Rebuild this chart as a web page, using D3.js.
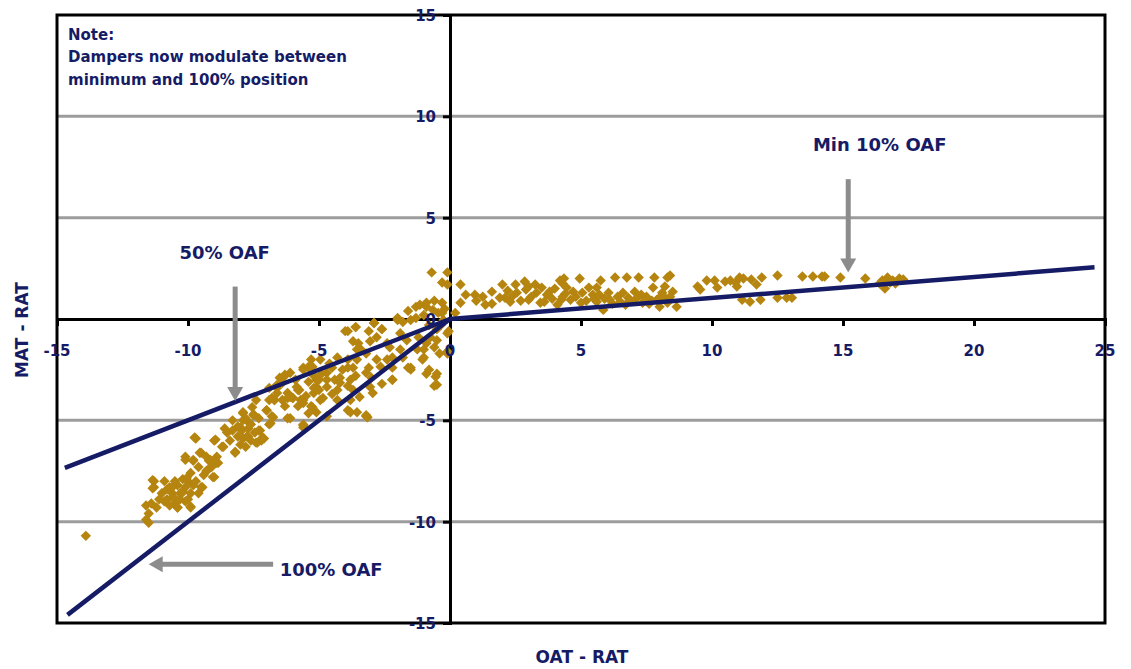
<!DOCTYPE html>
<html>
<head>
<meta charset="utf-8">
<script src="https://cdn.jsdelivr.net/npm/d3@7"></script>
<style>
  body { margin: 0; background: #fff; }
  svg { display: block; }
  text { font-family: "DejaVu Sans", sans-serif; fill: #161b66; }
</style>
</head>
<body>
<svg width="1131" height="669"></svg>
<script>
/* ===============================
   Data
   =============================== */
let xTicks = [-15, -10, -5, 0, 5, 10, 15, 20, 25];
let yTicks = [-15, -10, -5, 0, 5, 10, 15];
let gridValues = [-10, -5, 5, 10];

// measured MAT-RAT vs OAT-RAT, cold side (economizer modulating)
let coldPoints = [
  [-13.9, -10.7],
  [-11.6, -9.9], [-11.5, -9.6], [-11.6, -9.2], [-11.4, -9.1], [-11.3, -8.3], [-11.3, -8.0], [-11.2, -9.3],
  [-11.5, -10.05], [-11.35, -7.95], [-11.35, -8.35],
  [-10.8, -8.9], [-10.7, -8.3], [-10.6, -8.6], [-10.6, -8.8], [-10.5, -9.1], [-10.4, -9.3], [-10.4, -8.2],
  [-10.3, -8.6], [-10.2, -8.5], [-10.2, -7.9], [-10.1, -9.0], [-10.0, -8.9], [-10.0, -8.0], [-9.9, -9.3],
  [-9.9, -8.6], [-9.8, -8.2], [-10.1, -6.8], [-9.8, -7.0], [-9.7, -5.9], [-9.5, -6.6], [-9.5, -8.3],
  [-10.6, -8.3], [-10.55, -8.8], [-10.4, -9.3], [-10.2, -8.55], [-10.05, -7.85], [-9.9, -9.25],
  [-10.1, -6.95], [-9.75, -5.85], [-9.8, -6.95], [-9.55, -6.6], [-9.45, -8.3], [-9.25, -7.45],
  [-9.15, -6.95], [-8.95, -5.95], [-9.05, -7.8], [-8.85, -7.1], [-8.65, -6.3], [-8.5, -5.6],
  [-11.0, -8.6], [-10.9, -9.0], [-10.8, -8.4], [-10.7, -9.2], [-10.5, -8.0], [-10.3, -8.9], [-10.1, -8.3],
  [-9.9, -7.6], [-9.7, -8.0], [-9.6, -7.3], [-9.4, -7.7], [-9.3, -6.8], [-9.1, -7.3], [-9.6, -8.6],
  [-10.9, -8.0], [-11.1, -8.9],
  [-9.3, -7.5], [-9.2, -7.0], [-9.0, -7.8], [-9.0, -6.0], [-8.9, -6.8], [-8.9, -7.1], [-8.7, -6.3],
  [-8.6, -5.4], [-8.5, -5.6], [-8.3, -5.5], [-8.2, -6.6], [-8.1, -5.3], [-8.0, -5.4], [-8.2, -6.55],
  [-8.0, -5.35], [-7.9, -4.65], [-7.75, -5.8], [-7.65, -5.15], [-7.5, -4.75], [-7.35, -6.1],
  [-7.25, -5.5], [-7.15, -5.85], [-7.0, -4.5], [-6.85, -5.15], [-6.75, -4.85], [-6.7, -4.0],
  [-8.4, -6.0], [-8.3, -5.0], [-8.1, -5.8], [-7.95, -5.5], [-7.8, -4.9], [-7.7, -5.4], [-7.6, -6.0],
  [-7.45, -5.6], [-7.3, -4.9], [-7.2, -6.0], [-8.0, -6.2], [-7.55, -4.35],
  [-7.9, -4.6], [-7.9, -5.0], [-7.9, -5.9], [-7.8, -6.3], [-7.7, -5.8], [-7.6, -5.2], [-7.5, -4.7],
  [-7.4, -6.1], [-7.4, -4.0], [-7.3, -5.5], [-7.1, -5.9], [-7.0, -4.5], [-6.9, -5.2], [-6.9, -4.0],
  [-6.8, -4.8], [-6.7, -4.0], [-6.6, -3.4], [-6.6, -3.25], [-6.3, -2.75], [-6.2, -3.65], [-6.2, -4.9],
  [-6.0, -3.9], [-5.75, -3.5], [-5.6, -4.15], [-5.6, -5.25], [-5.4, -2.35], [-5.25, -4.35], [-5.1, -3.35],
  [-6.4, -4.0], [-6.3, -2.8], [-6.2, -3.9], [-6.0, -3.9], [-5.8, -3.5], [-5.8, -4.3], [-5.7, -4.0],
  [-5.6, -2.4], [-5.6, -5.2], [-5.4, -2.4], [-5.3, -4.3], [-5.3, -2.0], [-5.2, -3.4], [-5.1, -4.6],
  [-6.1, -4.9], [-5.6, -5.35], [-5.4, -4.65], [-3.9, -4.5], [-3.55, -4.6], [-3.15, -4.85], [-6.1, -3.85],
  [-5.9, -3.0], [-5.5, -3.8], [-5.4, -3.1], [-5.2, -2.8], [-5.0, -3.5], [-4.85, -3.9], [-4.6, -2.2],
  [-4.4, -3.0], [-4.5, -3.7], [-4.1, -2.5], [-3.9, -3.3], [-3.6, -2.8], [-6.5, -2.9], [-6.8, -3.9],
  [-6.3, -4.3], [-6.9, -3.4],
  [-5.25, -2.35], [-4.95, -2.0], [-4.7, -2.65], [-5.1, -3.0], [-5.6, -2.5], [-6.1, -2.65], [-5.85, -3.35],
  [-6.4, -3.15], [-6.6, -3.65], [-5.2, -3.65], [-4.7, -3.35], [-4.2, -3.15], [-3.7, -3.5], [-3.45, -3.85],
  [-2.95, -3.65], [-4.3, -4.0], [-4.95, -4.0], [-5.6, -4.0], [-3.8, -4.6], [-3.2, -4.75],
  [-5.0, -3.0], [-4.9, -2.7], [-4.7, -3.0], [-4.7, -4.8], [-4.5, -2.4], [-4.3, -3.5], [-4.2, -2.9],
  [-4.3, -1.9], [-3.9, -2.4], [-3.55, -2.0], [-3.8, -3.0], [-3.2, -2.65], [-2.65, -2.35], [-3.05, -3.35],
  [-2.2, -3.0], [-1.5, -2.5],
  [-3.7, -1.1], [-3.55, -1.5], [-3.2, -1.7], [-3.05, -1.1], [-2.8, -2.0], [-2.4, -1.2], [-2.2, -1.9],
  [-1.9, -1.5], [-1.65, -1.05], [-1.5, -2.4], [-1.25, -1.5], [-1.05, -2.0], [-0.9, -1.2], [-0.75, -0.9],
  [-0.5, -1.05], [-0.4, -1.7], [-0.9, -2.7], [-0.55, -2.85], [-0.5, -3.25],
  [-4.0, -0.6], [-3.9, -2.0], [-3.8, -4.0], [-3.7, -2.4], [-3.6, -0.4], [-3.5, -1.2], [-3.4, -1.5],
  [-3.2, -4.8], [-3.1, -2.4], [-3.0, -2.9], [-2.9, -0.2], [-2.8, -0.9], [-2.6, -0.5], [-2.6, -3.2],
  [-2.4, -2.0], [-2.3, -1.4], [-2.2, -2.4], [-2.2, -3.0], [-2.0, 0.05], [-1.9, -0.7], [-1.8, -1.9],
  [-1.6, -2.4], [-1.5, -0.05], [-1.3, 0.6], [-1.2, -0.9], [-1.0, -1.5], [-1.0, -1.9], [-0.9, 0.8],
  [-0.8, -2.5], [-0.6, -3.3], [-0.5, -2.7], [-0.5, -0.5], [-0.3, 0.3], [-0.1, -0.7], [-0.1, -1.7],
  [-3.9, -0.6], [-3.6, -0.4], [-3.1, -0.6], [-2.9, -0.2], [-2.6, -0.5], [-2.0, -0.05], [-1.8, -0.15],
  [-1.3, 0.05], [-1.15, 0.7], [-0.9, 0.6], [-0.65, 0.45], [-0.45, 0.3], [-0.25, -0.05],
  [-1.6, 0.4], [-0.6, 0.9], [-0.3, 0.8], [-0.2, 0.5], [-1.0, 0.2], [-0.35, -0.3], [-0.8, -0.3], [-0.6, -1.4],
  [-0.7, 2.3], [-0.1, 2.3], [-0.3, 1.8], [-0.1, 1.7], [-0.05, -0.6], [-0.1, -1.6]
];

// warm side (dampers at minimum position)
let warmPoints = [
  [0.4, 1.7], [0.4, 0.8], [0.95, 1.2], [1.25, 1.1], [1.35, 0.7], [2.0, 1.7], [2.1, 1.05], [2.5, 1.7],
  [2.55, 1.3], [2.85, 1.85], [3.0, 0.95], [3.25, 1.7], [3.3, 1.3], [3.45, 0.8], [3.8, 1.35], [4.2, 1.9],
  [4.45, 1.55], [4.25, 0.95], [4.6, 0.95], [4.95, 2.0], [5.05, 1.3], [5.45, 1.2], [5.75, 1.9], [5.85, 0.45],
  [6.05, 1.3], [6.3, 2.05], [6.75, 2.05], [7.2, 2.05], [6.6, 1.3], [7.05, 1.35], [6.7, 0.7], [7.35, 0.8],
  [7.8, 2.05], [8.3, 2.05], [7.75, 1.55], [8.1, 1.3], [8.3, 0.8], [8.0, 0.6], [8.4, 2.15], [8.5, 1.35],
  [8.65, 0.6], [9.45, 1.6], [9.55, 1.45], [9.8, 1.9], [10.1, 1.9], [10.2, 1.55], [10.7, 1.9], [10.9, 1.8],
  [11.05, 2.05], [11.2, 2.0], [10.95, 1.6], [11.15, 0.95], [11.45, 0.85], [11.7, 1.7], [11.9, 2.05],
  [11.85, 0.95], [12.5, 2.15], [12.5, 1.05], [12.85, 1.05], [13.05, 1.05], [13.45, 2.1], [13.85, 2.1],
  [14.2, 2.1], [14.3, 2.1], [14.9, 2.05], [15.85, 2.0], [16.5, 1.9], [16.6, 1.5], [16.7, 2.05],
  [16.9, 1.9], [17.15, 2.0], [17.3, 1.95],
  [1.6, 0.75], [2.3, 0.85], [2.7, 0.9], [3.6, 0.85], [3.9, 1.0], [4.1, 0.7], [4.8, 1.1], [5.2, 0.9],
  [5.6, 0.85], [5.9, 1.0], [6.2, 0.75], [6.4, 1.1], [6.9, 0.9], [7.5, 1.1], [7.6, 0.75], [7.9, 0.95],
  [8.2, 1.05], [4.4, 1.25], [5.3, 1.55], [3.5, 1.55], [2.2, 1.4], [1.6, 1.35], [0.6, 1.2], [0.2, 0.3],
  [1.0, 0.9], [1.9, 1.05], [2.4, 1.15], [2.9, 1.45], [3.1, 1.1], [3.7, 1.2], [4.0, 1.5], [4.3, 1.1],
  [4.7, 1.35], [5.0, 0.8], [5.5, 1.0], [5.7, 1.2], [6.1, 0.95], [6.5, 0.85], [6.8, 1.05], [7.1, 1.0],
  [7.3, 1.2], [7.7, 0.9], [8.0, 1.05], [8.4, 1.1], [3.0, 1.6], [4.3, 1.75], [4.35, 2.0], [5.6, 1.55],
  [8.2, 1.6], [10.5, 1.85], [11.5, 1.95], [16.8, 1.8], [16.4, 1.75], [17.0, 1.75]
];

// OAF reference lines
let minOafLine = [[0, 0], [24.6, 2.55]];
let halfOafLine = [[0, 0], [-14.7, -7.35]];
let fullOafLine = [[0, 0], [-14.6, -14.6]];

/* ===============================
   Scales
   =============================== */
let svg = d3.select("svg");
let x = d3.scaleLinear().domain([-15, 25]).range([57, 1105]);
let y = d3.scaleLinear().domain([-15, 15]).range([623, 15]);

let navy = "#161b66";
let gold = "#b5850f";
let grey = "#8c8c8c";

/* ===============================
   Gridlines
   =============================== */
svg.append("g").selectAll("line")
    .data(gridValues)
    .join("line")
    .attr("x1", x(-15))
    .attr("x2", x(25))
    .attr("y1", d => y(d))
    .attr("y2", d => y(d))
    .attr("stroke", "#9c9c9c")
    .attr("stroke-width", 3);

/* ===============================
   Axis lines through zero + frame
   =============================== */
let xAxis = svg.append("g")
    .attr("transform", `translate(0,${y(0)})`)
    .call(d3.axisBottom(x).tickValues(xTicks).tickSize(7).tickFormat(""));
let yAxis = svg.append("g")
    .attr("transform", `translate(${x(0)},0)`)
    .call(d3.axisLeft(y).tickValues(yTicks).tickSize(7).tickFormat(""));
[xAxis, yAxis].forEach(a => {
    a.selectAll("path").attr("stroke", "#000").attr("stroke-width", 3);
    a.selectAll("line").attr("stroke", "#000").attr("stroke-width", 3);
});
xAxis.selectAll(".tick").filter(d => d === -15 || d === 25).remove();
yAxis.selectAll(".tick").filter(d => d === -15 || d === 15).remove();

svg.append("rect")
    .attr("x", x(-15))
    .attr("y", y(15))
    .attr("width", x(25) - x(-15))
    .attr("height", y(-15) - y(15))
    .attr("fill", "none")
    .attr("stroke", "#000")
    .attr("stroke-width", 3);

/* ===============================
   Scatter points (diamonds)
   =============================== */
let diamond = "M0,-5.2L5.2,0L0,5.2L-5.2,0Z";
svg.append("g").selectAll("path")
    .data(coldPoints.concat(warmPoints))
    .join("path")
    .attr("d", diamond)
    .attr("transform", d => `translate(${x(d[0])},${y(d[1])})`)
    .attr("fill", gold);

/* ===============================
   OAF lines
   =============================== */
let line = d3.line().x(d => x(d[0])).y(d => y(d[1]));
[minOafLine, halfOafLine, fullOafLine].forEach(pts => {
    svg.append("path")
        .attr("d", line(pts))
        .attr("fill", "none")
        .attr("stroke", navy)
        .attr("stroke-width", 4.5);
});

/* ===============================
   Tick labels
   =============================== */
svg.append("g").selectAll("text")
    .data(xTicks)
    .join("text")
    .attr("x", d => x(d))
    .attr("y", y(0) + 37)
    .attr("text-anchor", "middle")
    .attr("font-size", 15)
    .attr("font-weight", "bold")
    .text(d => d);

svg.append("g").selectAll("text")
    .data(yTicks)
    .join("text")
    .attr("x", x(0) - 14)
    .attr("y", d => y(d) + 6)
    .attr("text-anchor", "end")
    .attr("font-size", 15)
    .attr("font-weight", "bold")
    .text(d => d);

/* ===============================
   Axis titles
   =============================== */
svg.append("text")
    .attr("x", 582)
    .attr("y", 663)
    .attr("text-anchor", "middle")
    .attr("font-size", 17)
    .attr("font-weight", "bold")
    .text("OAT - RAT");

svg.append("text")
    .attr("transform", "translate(28,330) rotate(-90)")
    .attr("text-anchor", "middle")
    .attr("font-size", 17)
    .attr("font-weight", "bold")
    .text("MAT - RAT");

/* ===============================
   Note
   =============================== */
svg.append("text").attr("x", 68).attr("y", 40)
    .attr("font-size", 15).attr("font-weight", "bold")
    .text("Note:");
svg.append("text").attr("x", 68).attr("y", 62)
    .attr("font-size", 15).attr("font-weight", "bold")
    .text("Dampers now modulate between");
svg.append("text").attr("x", 68).attr("y", 85)
    .attr("font-size", 15).attr("font-weight", "bold")
    .text("minimum and 100% position");

/* ===============================
   Arrows + annotations
   =============================== */
function arrowDown(cx, yTop, yTip) {
    svg.append("line")
        .attr("x1", x(cx)).attr("x2", x(cx))
        .attr("y1", y(yTop)).attr("y2", y(yTip) - 12)
        .attr("stroke", grey).attr("stroke-width", 5);
    svg.append("path")
        .attr("d", `M${x(cx) - 8},${y(yTip) - 14}L${x(cx) + 8},${y(yTip) - 14}L${x(cx)},${y(yTip)}Z`)
        .attr("fill", grey);
}

arrowDown(15.2, 6.9, 2.3);
arrowDown(-8.2, 1.6, -4.05);

// 100% OAF arrow, pointing left
let ay = y(-12.1);
svg.append("line")
    .attr("x1", x(-6.75)).attr("x2", x(-11.5) + 12)
    .attr("y1", ay).attr("y2", ay)
    .attr("stroke", grey).attr("stroke-width", 5);
svg.append("path")
    .attr("d", `M${x(-11.5) + 14},${ay - 8}L${x(-11.5) + 14},${ay + 8}L${x(-11.5)},${ay}Z`)
    .attr("fill", grey);

svg.append("text")
    .attr("x", x(16.4)).attr("y", y(8.3))
    .attr("text-anchor", "middle")
    .attr("font-size", 18).attr("font-weight", "bold")
    .text("Min 10% OAF");

svg.append("text")
    .attr("x", x(-8.6)).attr("y", y(2.96))
    .attr("text-anchor", "middle")
    .attr("font-size", 18).attr("font-weight", "bold")
    .text("50% OAF");

svg.append("text")
    .attr("x", x(-6.5)).attr("y", y(-12.7))
    .attr("font-size", 18).attr("font-weight", "bold")
    .text("100% OAF");
</script>
</body>
</html>
